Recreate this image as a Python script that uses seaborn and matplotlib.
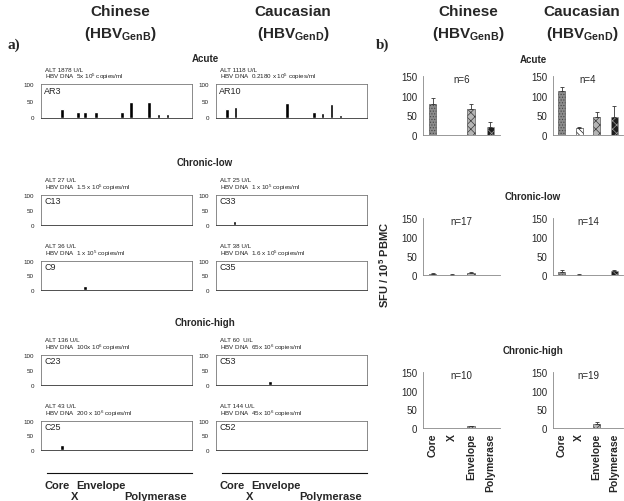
import matplotlib
matplotlib.use('Agg')
import matplotlib.pyplot as plt
import matplotlib.transforms as mtransforms
import seaborn as sns
import numpy as np
import pandas as pd

# --- data ---------------------------------------------------------------
segments = ["Core", "X", "Envelope", "Polymerase"]
seg_edges = [0, 20, 36, 72.6, 145]

# panel a) single patients (peptide position, SFU)
pat_names = ["AR3", "AR10", "C13", "C33", "C9", "C35", "C23", "C53", "C25", "C52"]
pat_alt = ["ALT 1878 U/L", "ALT 1118 U/L", "ALT 27 U/L", "ALT 25 U/L", "ALT 36 U/L",
           "ALT 38 U/L", "ALT 136 U/L", "ALT 60  U/L", "ALT 43 U/L", "ALT 144 U/L"]
pat_dna = [r"HBV DNA  5x 10$^5$ copies/ml", r"HBV DNA  0.2180 x 10$^5$ copies/ml",
           r"HBV DNA  1.5 x 10$^5$ copies/ml", r"HBV DNA  1 x 10$^5$ copies/ml",
           r"HBV DNA  1 x 10$^5$ copies/ml", r"HBV DNA  1.6 x 10$^5$ copies/ml",
           r"HBV DNA  100x 10$^6$ copies/ml", r"HBV DNA  65x 10$^6$ copies/ml",
           r"HBV DNA  200 x 10$^6$ copies/ml", r"HBV DNA  45x 10$^6$ copies/ml"]
ar3_pos = [14.7, 30.7, 38, 48.7, 74.7, 84, 102, 111.3, 120.3]
ar3_val = [25, 15, 15, 15, 15, 45, 45, 10, 10]
ar10_pos = [5, 13.3, 65, 92, 100.6, 109.3, 118.3]
ar10_val = [25, 30, 42, 15, 13, 40, 8]
c13_pos, c13_val = [], []
c33_pos, c33_val = [12.3], [15]
c9_pos, c9_val = [38], [15]
c35_pos, c35_val = [], []
c23_pos, c23_val = [], []
c53_pos, c53_val = [48], [15]
c25_pos, c25_val = [14.7], [17]
c52_pos, c52_val = [], []
pat_pos = [ar3_pos, ar10_pos, c13_pos, c33_pos, c9_pos, c35_pos, c23_pos, c53_pos, c25_pos, c52_pos]
pat_val = [ar3_val, ar10_val, c13_val, c33_val, c9_val, c35_val, c23_val, c53_val, c25_val, c52_val]

# panel b) group means +/- error
acute_chi = [78, 0, 65, 20];      acute_chi_err = [17, 0, 15, 12]
acute_cau = [112, 17, 47, 45];    acute_cau_err = [10, 4, 12, 30]
low_chi = [3, 1, 5, 0.5];         low_chi_err = [1, 0.5, 2, 0]
low_cau = [8, 1, 0, 10];          low_cau_err = [6, 0.5, 0, 3]
high_chi = [1, 0.5, 5, 1];        high_chi_err = [0, 0, 1.5, 0]
high_cau = [0, 0, 12, 1];         high_cau_err = [0, 0, 4, 0]
group_n = ["n=6", "n=4", "n=17", "n=14", "n=10", "n=19"]

# --- style --------------------------------------------------------------
sns.set_style('white')
plt.rcParams['font.family'] = ['Liberation Sans', 'DejaVu Sans']
plt.rcParams['mathtext.fontset'] = 'custom'
plt.rcParams['mathtext.rm'] = 'Liberation Sans'
plt.rcParams['mathtext.bf'] = 'Liberation Sans:bold'
plt.rcParams['hatch.linewidth'] = 0.5

W, H = 624, 502
fig = plt.figure(figsize=(W / 100, H / 100), dpi=100)


def rect(x0, y0, x1, y1):
    return [x0 / W, 1 - y1 / H, (x1 - x0) / W, (y1 - y0) / H]


def ftext(x, y, s, **kw):
    fig.text(x / W, 1 - y / H, s, ha=kw.pop('ha', 'center'), va=kw.pop('va', 'center'), **kw)


# --- headers ------------------------------------------------------------
ftext(14, 45, "a)", family='Liberation Serif', fontweight='bold', fontsize=11)
ftext(383, 45, "b)", family='Liberation Serif', fontweight='bold', fontsize=11)
for x, name, gen in [(120, "Chinese", "GenB"), (293, "Caucasian", "GenD"),
                     (468, "Chinese", "GenB"), (582, "Caucasian", "GenD")]:
    ftext(x, 12, name, fontweight='bold', fontsize=11)
    ftext(x, 34, r"(HBV$_{\mathbf{%s}}$)" % gen, fontweight='bold', fontsize=11)

for x, y, s in [(205, 59, "Acute"), (205, 163, "Chronic-low"), (205, 323, "Chronic-high"),
                (533, 60, "Acute"), (533, 197, "Chronic-low"), (533, 351, "Chronic-high")]:
    ftext(x, y, s, fontweight='bold', fontsize=7)

ftext(384, 265, r"SFU / 10$^{\mathbf{5}}$ PBMC", rotation=90, fontweight='bold', fontsize=8)

# --- a) patient panels --------------------------------------------------
col_x = [(41, 192), (216, 367)]
row_y = [(85, 118.5), (196, 226), (262, 291), (356, 386), (422, 451)]

for i, name in enumerate(pat_names):
    r, c = divmod(i, 2)
    x0, x1 = col_x[c]
    y0, y1 = row_y[r]
    ax = fig.add_axes(rect(x0, y0, x1, y1))
    ax.bar(pat_pos[i], pat_val[i], width=3.6, color='black')
    ax.set_xlim(-6, 145)
    ax.set_ylim(0, 100)
    ax.set_yticks([0, 50, 100])
    ax.set_yticklabels(["0", "50", "100"], fontsize=4.5, color='#222')
    ax.set_xticks(seg_edges[1:4])
    ax.set_xticklabels([])
    ax.tick_params(axis='y', length=0, pad=5)
    ax.tick_params(axis='x', direction='out', length=2.5, width=0.6, color='#333')
    for s in ax.spines.values():
        s.set_color('#777')
        s.set_linewidth(0.6)
    ax.spines['bottom'].set_color('#333')
    ax.text(0.02, 0.95, name, transform=ax.transAxes, va='top', ha='left', fontsize=6.5)
    ftext(x0 + 4, y0 - 15, pat_alt[i], ha='left', fontsize=4.5, color='#222')
    ftext(x0 + 4, y0 - 8, pat_dna[i], ha='left', fontsize=4.5, color='#222')

# gene map axis under panel a)
for x0, x1 in col_x:
    ax = fig.add_axes(rect(x0, 462, x1, 474))
    ax.set_xlim(-6, 145)
    ax.set_ylim(0, 1)
    for k in ['top', 'left', 'right']:
        ax.spines[k].set_visible(False)
    ax.spines['bottom'].set_bounds(0, 145)
    ax.spines['bottom'].set_color('#111')
    ax.spines['bottom'].set_linewidth(0.8)
    ax.set_yticks([])
    ax.set_xticks(seg_edges)
    ax.set_xticklabels([])
    ax.tick_params(axis='x', direction='in', length=5, width=0.8, color='#111')
    trans = mtransforms.blended_transform_factory(ax.transData, fig.transFigure)
    for j, seg in enumerate(segments):
        mid = (seg_edges[j] + seg_edges[j + 1]) / 2
        yy = 486 if j % 2 == 0 else 497
        ax.text(mid, 1 - yy / H, seg, transform=trans, ha='center', va='center',
                fontweight='bold', fontsize=8)

# --- b) group panels ----------------------------------------------------
bar_colors = ['#8c8c8c', '#ffffff', '#b5b5b5', '#1e1e1e']
bar_hatch = ['......', '\\\\\\\\\\\\', 'xxxx', 'xxxx']
bar_hatch_col = ['#444444', '#222222', '#3a3a3a', '#9a9a9a']

grp_vals = [acute_chi, acute_cau, low_chi, low_cau, high_chi, high_cau]
grp_errs = [acute_chi_err, acute_cau_err, low_chi_err, low_cau_err, high_chi_err, high_cau_err]
bcol_x = [(423, 500), (553, 623)]
brow_y = [(77, 136), (219, 276), (373, 429)]

for i in range(6):
    r, c = divmod(i, 2)
    x0, x1 = bcol_x[c]
    y0, y1 = brow_y[r]
    ax = fig.add_axes(rect(x0, y0, x1, y1))
    df = pd.DataFrame({'segment': segments, 'sfu': grp_vals[i]})
    sns.barplot(data=df, x='segment', y='sfu', hue='segment', palette=bar_colors,
                width=0.4, errorbar=None, legend=False, ax=ax)
    for p, h, ec in zip(ax.patches, bar_hatch, bar_hatch_col):
        p.set_hatch(h)
        p.set_edgecolor(ec)
        p.set_linewidth(0.4)
    err = np.array(grp_errs[i], dtype=float)
    vals = np.array(grp_vals[i], dtype=float)
    idx = np.where(err > 0)[0]
    ax.errorbar(idx, vals[idx], yerr=[np.zeros(len(idx)), err[idx]], fmt='none',
                ecolor='#333', elinewidth=0.6, capsize=1.5, capthick=0.6)
    ax.set_xlim(-0.5, 3.5)
    ax.set_ylim(0, 150)
    ax.set_yticks([0, 50, 100, 150])
    ax.set_yticklabels(["0", "50", "100", "150"], fontsize=7)
    ax.set_xlabel('')
    ax.set_ylabel('')
    ax.spines['top'].set_visible(False)
    ax.spines['right'].set_visible(False)
    for k in ['left', 'bottom']:
        ax.spines[k].set_color('#888')
        ax.spines[k].set_linewidth(0.6)
    ax.tick_params(axis='y', length=2, width=0.6, color='#888', pad=2)
    ax.tick_params(axis='x', length=0)
    ax.set_xticks([0, 1, 2, 3])
    if r == 2:
        ax.set_xticklabels(segments, rotation=90, fontweight='bold', fontsize=7.5)
    else:
        ax.set_xticklabels([])
    ax.text(1.5, 143, group_n[i], ha='center', va='center', fontsize=7)

fig.savefig('out.png', dpi=100)
